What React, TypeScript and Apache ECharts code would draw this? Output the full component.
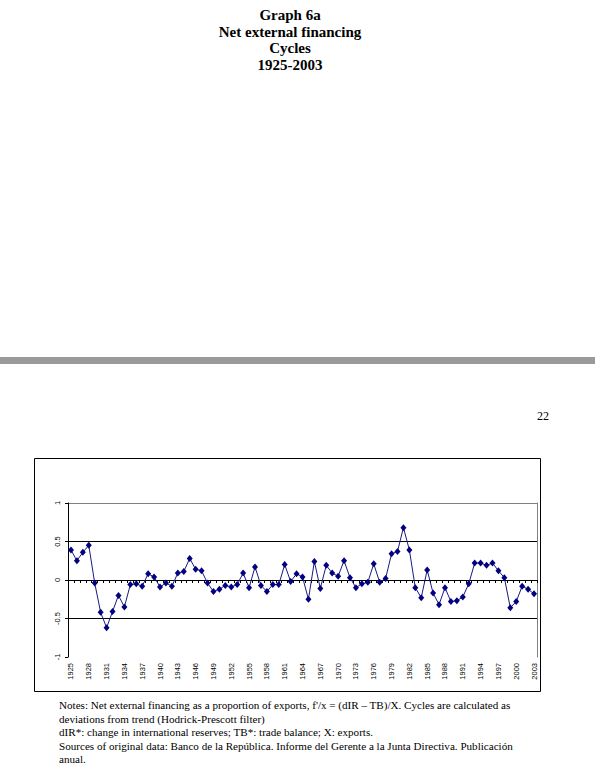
import React, { useEffect, useRef } from "react";
import * as echarts from "echarts";

const years: string[] = [];
for (let y = 1925; y <= 2003; y++) years.push(String(y));

const cycleValues: number[] = [
  0.39, 0.25, 0.36, 0.45, -0.04, -0.42, -0.62, -0.41, -0.2, -0.35,
  -0.06, -0.05, -0.08, 0.08, 0.04, -0.09, -0.04, -0.08, 0.09, 0.11,
  0.28, 0.14, 0.12, -0.04, -0.15, -0.12, -0.07, -0.09, -0.06, 0.09,
  -0.1, 0.17, -0.07, -0.15, -0.06, -0.06, 0.2, -0.02, 0.08, 0.04,
  -0.25, 0.24, -0.11, 0.19, 0.09, 0.05, 0.25, 0.03, -0.1, -0.05,
  -0.03, 0.21, -0.03, 0.02, 0.34, 0.37, 0.68, 0.39, -0.1, -0.23,
  0.13, -0.17, -0.32, -0.1, -0.28, -0.27, -0.22, -0.05, 0.22, 0.22,
  0.19, 0.22, 0.12, 0.03, -0.36, -0.28, -0.08, -0.12, -0.18,
];

const yMin = -1;
const yMax = 1;
const yStep = 0.5;

const titleLines: string[] = ["Graph 6a", "Net external financing", "Cycles", "1925-2003"];
const pageNumber = "22";
const noteLines: string[] = [
  "Notes: Net external financing as a proportion of exports, f'/x = (dIR \u2013 TB)/X. Cycles are calculated as",
  "deviations from trend (Hodrick-Prescott filter)",
  "dIR*: change in international reserves; TB*: trade balance; X: exports.",
  "Sources of original data: Banco de la Rep\u00fablica. Informe del Gerente a la Junta Directiva. Publicaci\u00f3n",
  "anual.",
];

const SERIF = "'Liberation Serif', 'Times New Roman', serif";
const SANS = "'Liberation Sans', Arial, sans-serif";

export default function App() {
  const ref = useRef<HTMLDivElement>(null);
  useEffect(() => {
    if (!ref.current) return;
    const chart = echarts.init(ref.current, null, { renderer: "svg" });

    const graphic: any[] = [];
    titleLines.forEach((t, i) => {
      graphic.push({
        type: "text",
        x: 290,
        y: 15 + i * 16.5,
        style: {
          text: t,
          fill: "#000",
          fontFamily: SERIF,
          fontWeight: "bold",
          fontSize: 15,
          textAlign: "center",
          textVerticalAlign: "middle",
        },
      });
    });
    graphic.push({
      type: "rect",
      shape: { x: 0, y: 357, width: 595, height: 7 },
      style: { fill: "#9a9a9a" },
    });
    graphic.push({
      type: "text",
      x: 549,
      y: 416,
      style: {
        text: pageNumber,
        fill: "#000",
        fontFamily: SERIF,
        fontSize: 12,
        textAlign: "right",
        textVerticalAlign: "middle",
      },
    });
    graphic.push({
      type: "rect",
      shape: { x: 34.5, y: 458.5, width: 506, height: 233 },
      style: { fill: "none", stroke: "#000", lineWidth: 1 },
      z: 10,
    });
    noteLines.forEach((t, i) => {
      graphic.push({
        type: "text",
        x: 59,
        y: 705 + i * 13.5,
        style: {
          text: t,
          fill: "#000",
          fontFamily: SERIF,
          fontSize: 11.1,
          textAlign: "left",
          textVerticalAlign: "middle",
        },
      });
    });

    const option: any = {
      animation: false,
      grid: { left: 68, top: 503, width: 469, height: 154, show: false },
      xAxis: [
        {
          type: "category",
          data: years,
          position: "bottom",
          boundaryGap: true,
          axisLine: { show: false, onZero: false },
          axisTick: { show: false },
          axisLabel: {
            interval: 2,
            rotate: 90,
            fontSize: 7.5,
            fontFamily: SANS,
            color: "#000",
            margin: 6,
          },
          splitLine: { show: false },
        },
        {
          type: "category",
          data: years,
          position: "bottom",
          boundaryGap: true,
          axisLine: { show: true, onZero: true, lineStyle: { color: "#000", width: 1 } },
          axisTick: { show: true, interval: 0, length: 3, inside: false, lineStyle: { color: "#000", width: 1 } },
          axisLabel: { show: false },
          splitLine: { show: false },
        },
      ],
      yAxis: [
        {
          type: "value",
          min: yMin,
          max: yMax,
          interval: yStep,
          position: "left",
          axisLine: { show: true, lineStyle: { color: "#000", width: 1 } },
          axisTick: { show: true, length: 3, lineStyle: { color: "#000" } },
          axisLabel: {
            rotate: 90,
            fontSize: 7.5,
            fontFamily: SANS,
            color: "#000",
            margin: 7,
          },
          splitLine: {
            show: true,
            lineStyle: { color: ["rgba(0,0,0,0)", "#000", "#000", "#000", "#808080"], width: 1 },
          },
        },
        {
          type: "value",
          min: yMin,
          max: yMax,
          interval: yStep,
          position: "right",
          axisLine: { show: true, lineStyle: { color: "#808080", width: 1 } },
          axisTick: { show: false },
          axisLabel: { show: false },
          splitLine: { show: false },
        },
      ],
      series: [
        {
          type: "line",
          data: cycleValues,
          xAxisIndex: 0,
          yAxisIndex: 0,
          symbol: "diamond",
          symbolSize: [6, 7],
          showAllSymbol: true,
          lineStyle: { color: "#1a1a80", width: 1 },
          itemStyle: { color: "#000080" },
          z: 5,
        },
      ],
      graphic,
    };
    chart.setOption(option);
    return () => {
      chart.dispose();
    };
  }, []);

  return (
    <div
      ref={ref}
      style={{ position: "absolute", left: 0, top: 0, width: 595, height: 780, background: "#fff" }}
    />
  );
}
